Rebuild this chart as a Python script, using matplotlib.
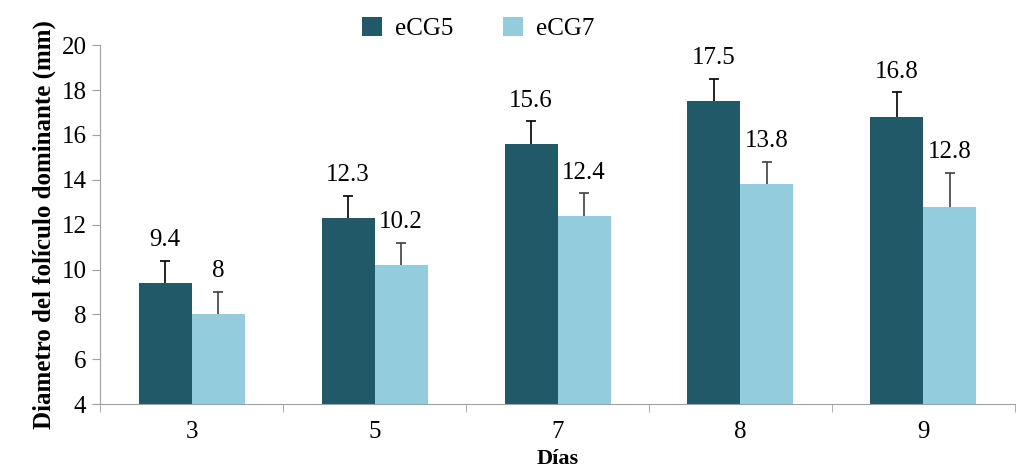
import numpy as np
import matplotlib.pyplot as plt

# data
dias = ['3', '5', '7', '8', '9']
ecg5 = [9.4, 12.3, 15.6, 17.5, 16.8]
ecg7 = [8.0, 10.2, 12.4, 13.8, 12.8]
err5 = [1.0, 1.0, 1.0, 1.0, 1.1]
err7 = [1.0, 1.0, 1.0, 1.0, 1.5]

plt.rcParams['font.family'] = ['Liberation Serif', 'DejaVu Serif']

fig = plt.figure(figsize=(10.24, 4.71), dpi=100)
ax = fig.add_axes([0.098, 0.142, 0.893, 0.762])

x = np.arange(len(dias))
w = 0.29
c5 = '#215968'
c7 = '#93CDDD'

ax.bar(x - w / 2, ecg5, w, color=c5, label='eCG5', zorder=2)
ax.bar(x + w / 2, ecg7, w, color=c7, label='eCG7', zorder=2)

# upper error bars only (cap on top)
for xs, vals, errs, col in [(x - w / 2, ecg5, err5, 'black'),
                            (x + w / 2, ecg7, err7, '#404040')]:
    tops = np.array(vals) + np.array(errs)
    ax.vlines(xs, vals, tops, color=col, lw=1.2, zorder=3)
    ax.plot(xs, tops, ls='none', marker='_', ms=7, mew=1.2, color=col, zorder=3)
    for xi, v, t in zip(xs, vals, tops):
        ax.annotate('{:g}'.format(v), (xi, t), xytext=(0, 7),
                    textcoords='offset points', ha='center', va='bottom',
                    fontsize=18)

ax.set_ylim(4, 20)
ax.set_yticks(np.arange(4, 21, 2))
ax.set_xlim(-0.5, len(dias) - 0.5)
ax.set_xticks(x)
ax.set_xticklabels(dias)
ax.set_xticks(np.arange(-0.5, len(dias), 1), minor=True)
ax.tick_params(axis='x', which='major', length=0, labelsize=18, pad=12)
ax.tick_params(axis='x', which='minor', length=6, color='#A0A0A0')
ax.tick_params(axis='y', length=6, color='#A0A0A0', labelsize=18, pad=4)

for s in ['top', 'right']:
    ax.spines[s].set_visible(False)
for s in ['left', 'bottom']:
    ax.spines[s].set_color('#A0A0A0')

ax.set_ylabel('Diametro del folículo dominante (mm)', fontsize=18,
              fontweight='bold', labelpad=4)
ax.set_xlabel('Días', fontsize=16, fontweight='bold')
ax.xaxis.set_label_coords(0.5, -0.125)

ax.legend(loc='center', bbox_to_anchor=(0.413, 1.047), ncol=2, frameon=False,
          fontsize=18, handlelength=0.8, handleheight=0.8, columnspacing=2.0,
          handletextpad=0.5)

fig.savefig('out.png', dpi=100)
